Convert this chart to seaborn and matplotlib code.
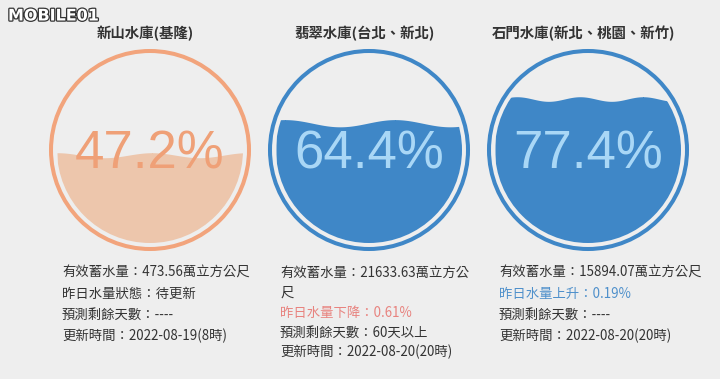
import numpy as np
import matplotlib
matplotlib.use("Agg")
import matplotlib.pyplot as plt
import matplotlib.patheffects as pe
from matplotlib.patches import Circle
import seaborn as sns

# values
names = ["新山水庫(基隆)", "翡翠水庫(台北、新北)", "石門水庫(新北、桃園、新竹)"]
percent = [47.2, 64.4, 77.4]
storage = ["473.56", "21633.63", "15894.07"]
trend = ["昨日水量狀態：待更新", "昨日水量下降：0.61%", "昨日水量上升：0.19%"]
days_left = ["----", "60天以上", "----"]
updated = ["2022-08-19(8時)", "2022-08-20(20時)", "2022-08-20(20時)"]

# colours
bg = "#eeeeee"
ring_colors = ["#f2a47c", "#3f87c7", "#3f87c7"]
fill_colors = ["#edc6ac", "#3f87c7", "#3f87c7"]
pct_colors = ["#efa077", "#a9d7f6", "#a9d7f6"]
trend_colors = ["#333333", "#e8837f", "#4f90cb"]

sns.set_theme(style="white", rc={"figure.facecolor": bg, "axes.facecolor": bg})
plt.rcParams["font.family"] = ["Noto Sans CJK TC", "DejaVu Sans"]

fig = plt.figure(figsize=(7.2, 3.79), dpi=100)
ax = fig.add_axes([0, 0, 1, 1])
ax.set_xlim(0, 720)
ax.set_ylim(379, 0)
ax.axis("off")

centers = [150, 369, 588]
cy = 150
r_ring, r_in = 99, 93
# wave look per gauge (length, amplitude, crest position)
wave_len = [95, 110, 63]
wave_amp = [2.5, 3.6, 2.3]
wave_peak = [152, 285, 517]

for i, cx in enumerate(centers):
    ax.add_patch(Circle((cx, cy), r_ring, fill=False, lw=2.9, ec=ring_colors[i]))
    clip = Circle((cx, cy), r_in, fc="none", ec="none")
    ax.add_patch(clip)
    x = np.linspace(cx - r_in, cx + r_in, 400)
    level = cy + r_in - 2 * r_in * percent[i] / 100
    surface = level - wave_amp[i] * np.cos(2 * np.pi * (x - wave_peak[i]) / wave_len[i])
    water = ax.fill_between(x, surface, cy + r_in + 2, color=fill_colors[i], lw=0)
    water.set_clip_path(clip)
    ax.text(cx, cy + 18.5, f"{percent[i]}%", ha="center", va="baseline",
            fontsize=38, color=pct_colors[i], family=["Liberation Sans", "DejaVu Sans"])
    ax.text(cx - 4.5, 33, names[i], ha="center", va="center", fontsize=10.4,
            fontweight="bold", color="#333333")

# info block under each gauge
info_x = [62, 280, 499]
info_dy = [21, 19.8, 21]
for i in range(3):
    lines = [(f"有效蓄水量：{storage[i]}萬立方公尺", "#333333")]
    if i == 1:
        # the middle column wraps its first line
        lines = [(f"有效蓄水量：{storage[i]}萬立方公", "#333333"), ("尺", "#333333")]
    lines += [(trend[i], trend_colors[i]),
              (f"預測剩餘天數：{days_left[i]}", "#333333"),
              (f"更新時間：{updated[i]}", "#333333")]
    for j, (txt, col) in enumerate(lines):
        ax.text(info_x[i], 273 + j * info_dy[i], txt, ha="left", va="center",
                fontsize=9.6, color=col)

# watermark
ax.text(8, 16, "MOBILE01", ha="left", va="center", fontsize=11.5, fontweight="bold",
        color="white", family="DejaVu Sans",
        path_effects=[pe.withStroke(linewidth=1.8, foreground="#333333")])

fig.savefig("out.png", dpi=100, facecolor=bg)
